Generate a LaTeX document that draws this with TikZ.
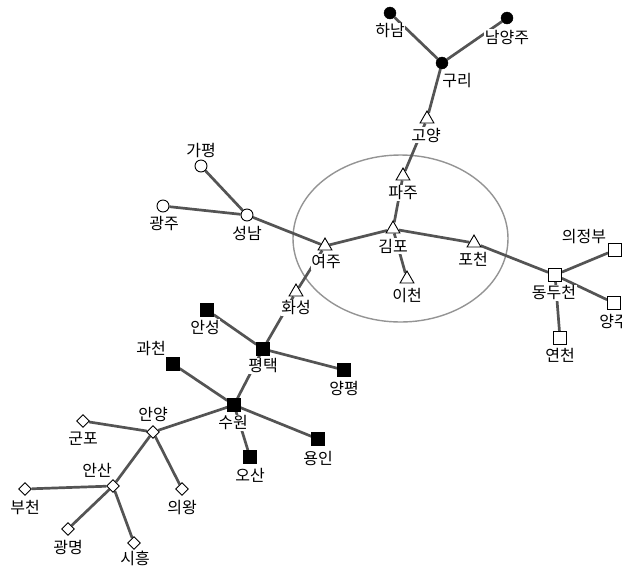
\documentclass[tikz,border=0pt]{standalone}
\usepackage{fontspec}
\setmainfont{Noto Sans CJK KR}
\usetikzlibrary{shapes.geometric,backgrounds}

\tikzset{
  dot/.style={circle,draw=black,fill=black,inner sep=0pt,minimum size=12pt},
  ring/.style={circle,draw=black,fill=white,line width=0.9pt,inner sep=0pt,minimum size=12pt},
  tri/.style={regular polygon,regular polygon sides=3,draw=black,fill=white,line width=0.9pt,inner sep=0pt,minimum size=16pt},
  box/.style={rectangle,draw=black,fill=white,line width=0.9pt,inner sep=0pt,minimum size=13pt},
  blackbox/.style={rectangle,draw=black,fill=black,inner sep=0pt,minimum size=13pt},
  gem/.style={diamond,draw=black,fill=white,line width=0.9pt,inner sep=0pt,minimum size=13pt},
  lbl/.style={fill=white,inner sep=0.5pt,font=\fontsize{16}{16}\selectfont},
  road/.style={draw=black!67,line width=2.7pt}
}

\begin{document}
\begin{tikzpicture}[x=1pt,y=-1pt]
\useasboundingbox (0,0) rectangle (622,566);

\node[dot] (Hanam) at (390,13) {};
\node[dot] (Namyangju) at (507,18) {};
\node[dot] (Guri) at (442,63) {};
\node[tri] (Goyang) at (427,119) {};
\node[tri] (Paju) at (403,176) {};
\node[tri] (Gimpo) at (393,229) {};
\node[tri] (Icheon) at (407,279) {};
\node[tri] (Pocheon) at (474,243) {};
\node[tri] (Yeoju) at (325,246) {};
\node[tri] (Hwaseong) at (296,292) {};
\node[ring] (Seongnam) at (247,215) {};
\node[ring] (Gapyeong) at (201,166) {};
\node[ring] (Gwangju) at (163,206) {};
\node[box] (Dongducheon) at (555,275) {};
\node[box] (Uijeongbu) at (615,250) {};
\node[box] (Yangju) at (614,303) {};
\node[box] (Yeoncheon) at (560,338) {};
\node[blackbox] (Anseong) at (207,310) {};
\node[blackbox] (Pyeongtaek) at (263,349) {};
\node[blackbox] (Yangpyeong) at (344,370) {};
\node[blackbox] (Gwacheon) at (173,364) {};
\node[blackbox] (Suwon) at (234,405) {};
\node[blackbox] (Yongin) at (318,439) {};
\node[blackbox] (Osan) at (250,457) {};
\node[gem] (Anyang) at (153,432) {};
\node[gem] (Gunpo) at (83,421) {};
\node[gem] (Uiwang) at (182,489) {};
\node[gem] (Ansan) at (113,486) {};
\node[gem] (Bucheon) at (25,489) {};
\node[gem] (Gwangmyeong) at (68,529) {};
\node[gem] (Siheung) at (134,543) {};

\node[lbl] (tHanam) at (390,31) {하남};
\node[lbl] (tNamyangju) at (507,37) {남양주};
\node[lbl] (tGuri) at (457,81) {구리};
\node[lbl] (tGoyang) at (426,135) {고양};
\node[lbl] (tPaju) at (403,193) {파주};
\node[lbl] (tGimpo) at (393,246) {김포};
\node[lbl] (tIcheon) at (407,296) {이천};
\node[lbl] (tPocheon) at (473,259) {포천};
\node[lbl] (tYeoju) at (326,262) {여주};
\node[lbl] (tHwaseong) at (296,308) {화성};
\node[lbl] (tSeongnam) at (247,233) {성남};
\node[lbl] (tGapyeong) at (201,150) {가평};
\node[lbl] (tGwangju) at (164,223) {광주};
\node[lbl] (tDongducheon) at (554,293) {동두천};
\node[lbl] (tUijeongbu) at (584,237) {의정부};
\node[lbl] (tYangju) at (614,321) {양주};
\node[lbl] (tYeoncheon) at (560,355) {연천};
\node[lbl] (tAnseong) at (205,327) {안성};
\node[lbl] (tPyeongtaek) at (263,366) {평택};
\node[lbl] (tYangpyeong) at (344,388) {양평};
\node[lbl] (tGwacheon) at (151,349) {과천};
\node[lbl] (tSuwon) at (233,423) {수원};
\node[lbl] (tYongin) at (318,458) {용인};
\node[lbl] (tOsan) at (250,475) {오산};
\node[lbl] (tAnyang) at (153,414) {안양};
\node[lbl] (tGunpo) at (83,439) {군포};
\node[lbl] (tUiwang) at (182,508) {의왕};
\node[lbl] (tAnsan) at (97,470) {안산};
\node[lbl] (tBucheon) at (25,508) {부천};
\node[lbl] (tGwangmyeong) at (68,547) {광명};
\node[lbl] (tSiheung) at (135,558) {시흥};

\begin{pgfonlayer}{background}
\node[ellipse,draw=black!42,line width=1.4pt,minimum width=215pt,minimum height=167pt] (core) at (400.5,238.5) {};
\draw[road] (Hanam) -- (Guri);
\draw[road] (Namyangju) -- (Guri);
\draw[road] (Guri) -- (Goyang);
\draw[road] (Goyang) -- (Paju);
\draw[road] (Paju) -- (Gimpo);
\draw[road] (Gimpo) -- (Icheon);
\draw[road] (Gimpo) -- (Pocheon);
\draw[road] (Gimpo) -- (Yeoju);
\draw[road] (Pocheon) -- (Dongducheon);
\draw[road] (Dongducheon) -- (Uijeongbu);
\draw[road] (Dongducheon) -- (Yangju);
\draw[road] (Dongducheon) -- (Yeoncheon);
\draw[road] (Yeoju) -- (Seongnam);
\draw[road] (Seongnam) -- (Gapyeong);
\draw[road] (Seongnam) -- (Gwangju);
\draw[road] (Yeoju) -- (Hwaseong);
\draw[road] (Hwaseong) -- (Pyeongtaek);
\draw[road] (Pyeongtaek) -- (Anseong);
\draw[road] (Pyeongtaek) -- (Yangpyeong);
\draw[road] (Pyeongtaek) -- (Suwon);
\draw[road] (Suwon) -- (Gwacheon);
\draw[road] (Suwon) -- (Yongin);
\draw[road] (Suwon) -- (Osan);
\draw[road] (Suwon) -- (Anyang);
\draw[road] (Anyang) -- (Gunpo);
\draw[road] (Anyang) -- (Uiwang);
\draw[road] (Anyang) -- (Ansan);
\draw[road] (Ansan) -- (Bucheon);
\draw[road] (Ansan) -- (Gwangmyeong);
\draw[road] (Ansan) -- (Siheung);
\end{pgfonlayer}
\end{tikzpicture}
\end{document}
